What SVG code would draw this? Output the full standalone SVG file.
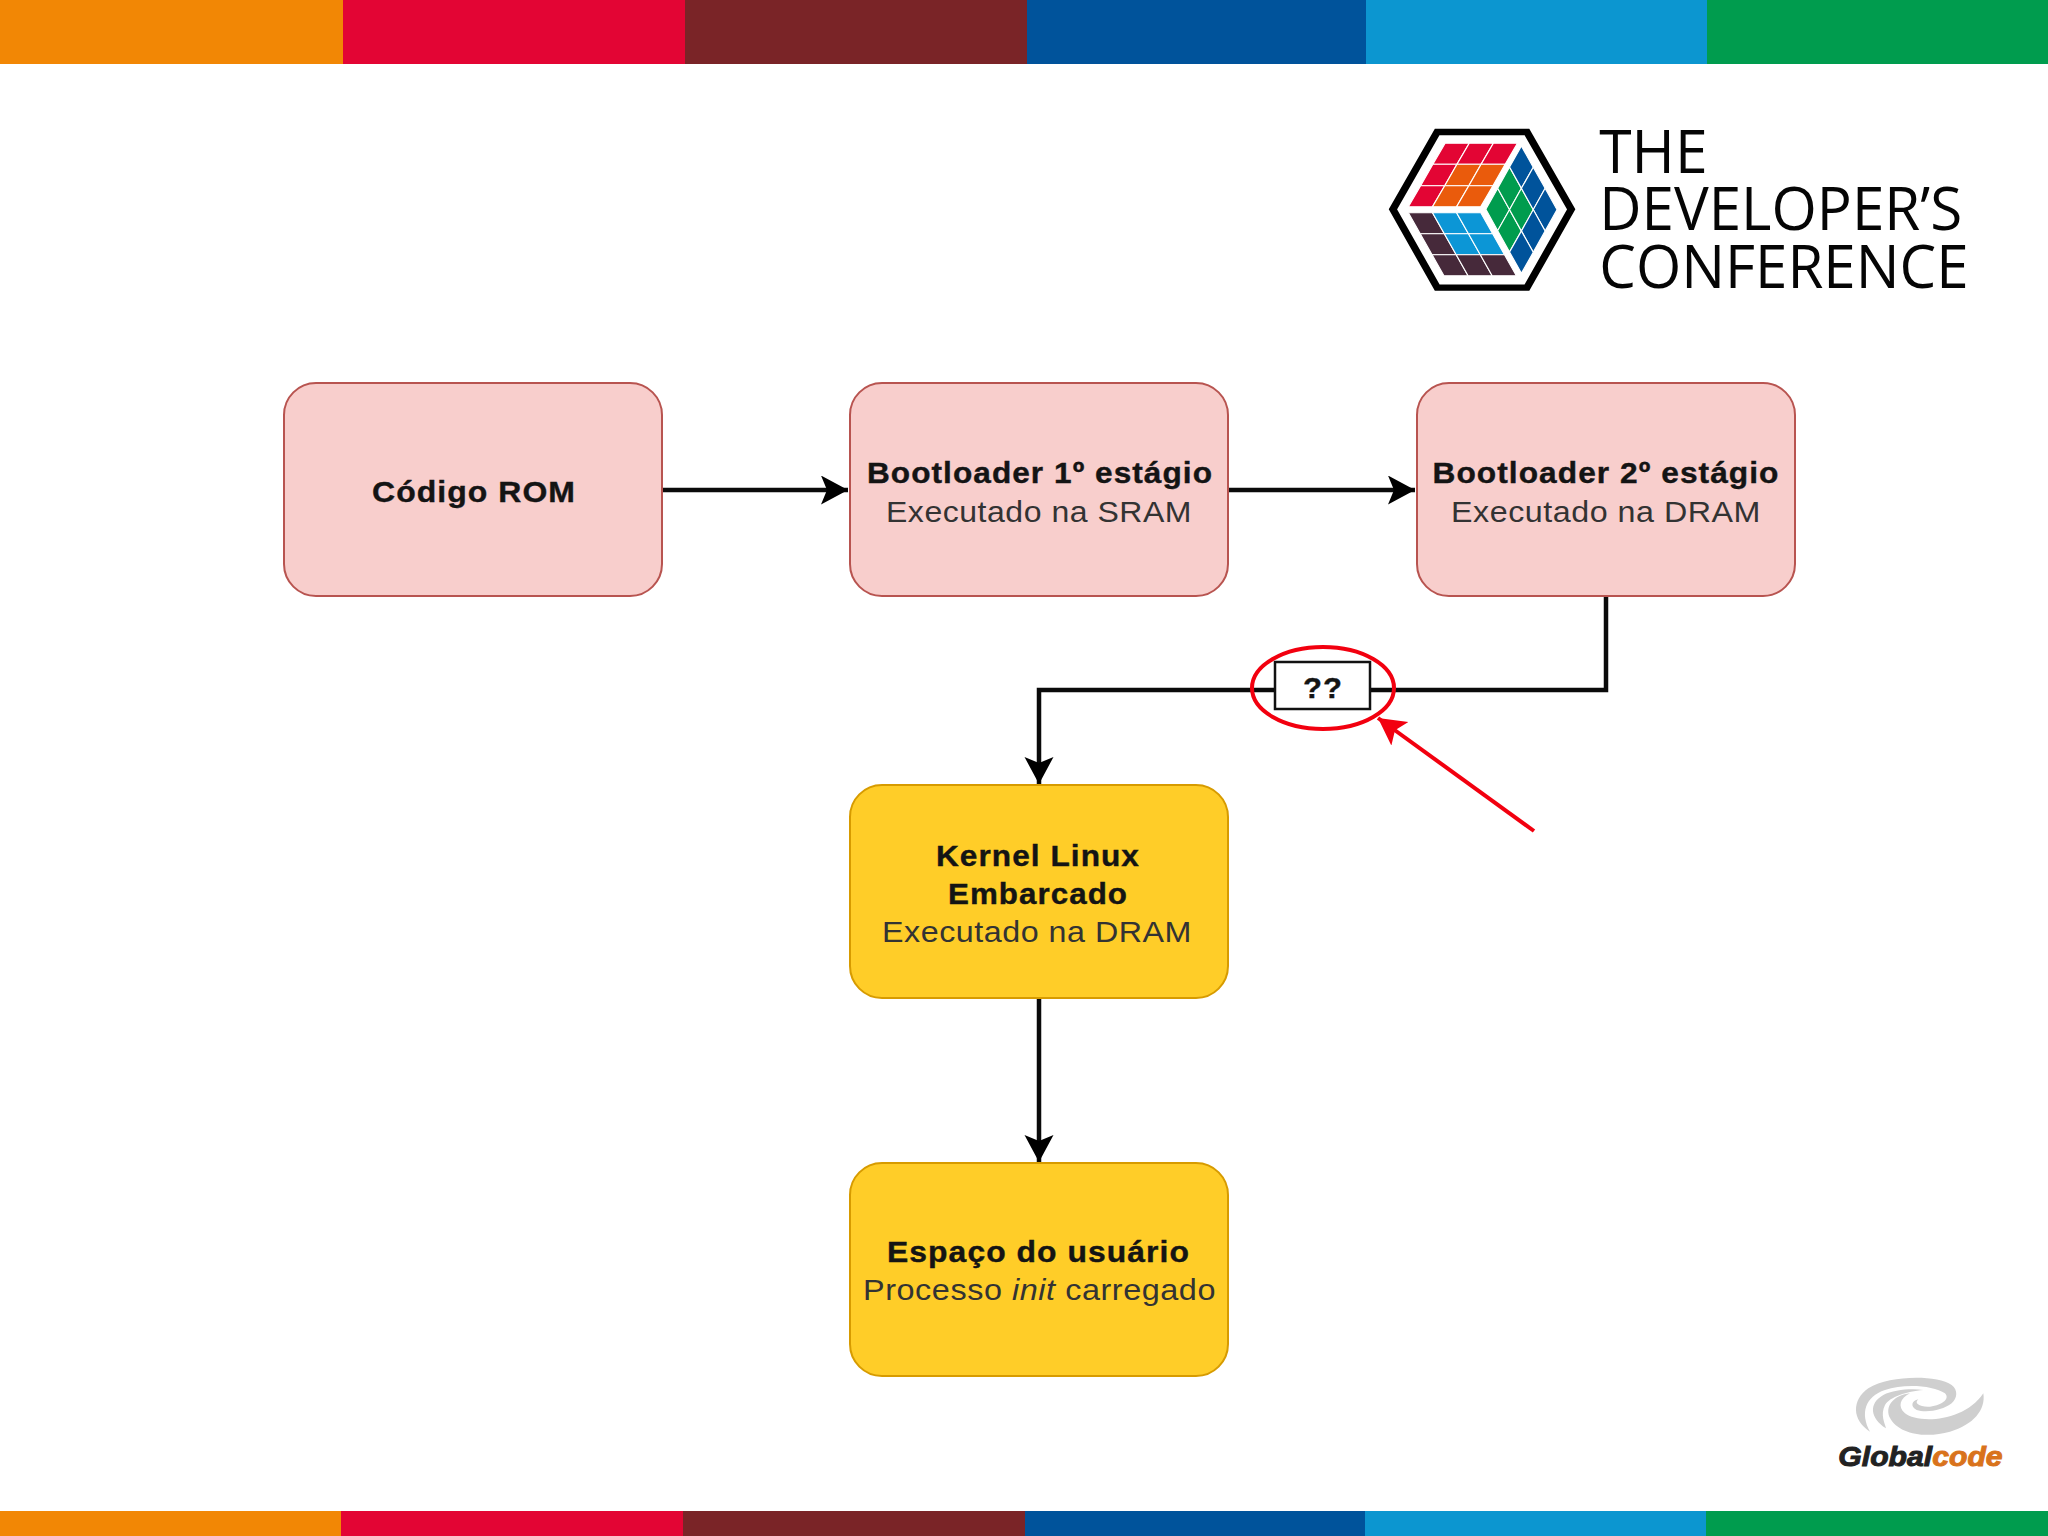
<svg xmlns="http://www.w3.org/2000/svg" width="2048" height="1536" viewBox="0 0 2048 1536">
<style>
.b{font-family:"Liberation Sans",Arial,sans-serif;font-size:30px;text-anchor:middle;fill:#141414}
.bb{font-weight:bold;stroke:#141414;stroke-width:.4;letter-spacing:1px}
.n{fill:#333;letter-spacing:.5px}
.pink{fill:#f8cecc;stroke:#b85450;stroke-width:2}
.yel{fill:#ffcd28;stroke:#d79b00;stroke-width:2}
.c{fill:none;stroke:#0a0a0a;stroke-width:4.5}
.lg{font-family:"Open Sans","Noto Sans",sans-serif;font-size:182px;fill:#050505}
.r{fill:#e30534}.o{fill:#ea5b0c}.d{fill:#46293a}.l{fill:#0c96d6}.g{fill:#009c4e}.u{fill:#00539b}
.cube polygon{stroke:#fff;stroke-width:3}
.sw{fill:#cfcfcf}
</style>
<defs>
<marker id="ah" markerUnits="userSpaceOnUse" markerWidth="30" markerHeight="30" refX="27" refY="14.5" orient="auto" viewBox="0 0 30 30"><path d="M0,0 L27,14.5 L0,29 L6,14.5 Z" fill="#000"/></marker>
<marker id="rh" markerUnits="userSpaceOnUse" markerWidth="30" markerHeight="30" refX="27" refY="14.5" orient="auto" viewBox="0 0 30 30"><path d="M0,0 L27,14.5 L0,29 L6,14.5 Z" fill="#f2000f"/></marker>
</defs>
<rect width="2048" height="1536" fill="#fff"/>
<g id="top-bar">
<rect x="0" y="0" width="343" height="64" fill="#f28705"/>
<rect x="343" y="0" width="342" height="64" fill="#e30534"/>
<rect x="685" y="0" width="342" height="64" fill="#7a2427"/>
<rect x="1027" y="0" width="339" height="64" fill="#00539b"/>
<rect x="1366" y="0" width="341" height="64" fill="#0c96d0"/>
<rect x="1707" y="0" width="341" height="64" fill="#009c4e"/>
</g>
<g id="bottom-bar">
<rect x="0" y="1511" width="341" height="25" fill="#f28705"/>
<rect x="341" y="1511" width="342" height="25" fill="#e30534"/>
<rect x="683" y="1511" width="342" height="25" fill="#7a2427"/>
<rect x="1025" y="1511" width="340" height="25" fill="#00539b"/>
<rect x="1365" y="1511" width="341" height="25" fill="#0c96d0"/>
<rect x="1706" y="1511" width="342" height="25" fill="#009c4e"/>
</g>
<g id="logo-tdc" transform="translate(1370 110) scale(.3953 .3333)">
<polygon points="170,66 397,66 509,298 397,533 170,533 58,298" fill="#fff" stroke="#000" stroke-width="19"/>
<g class="cube">
<polygon class="r" points="190,100 251,100 220,163 159,163"/>
<polygon class="r" points="251,100 312,100 281,163 220,163"/>
<polygon class="r" points="312,100 373,100 342,163 281,163"/>
<polygon class="r" points="159,163 220,163 189,227 128,227"/>
<polygon class="o" points="220,163 281,163 250,227 189,227"/>
<polygon class="o" points="281,163 342,163 311,227 250,227"/>
<polygon class="r" points="128,227 189,227 158,290 97,290"/>
<polygon class="o" points="189,227 250,227 219,290 158,290"/>
<polygon class="o" points="250,227 311,227 280,290 219,290"/>
<polygon class="d" points="97,308 158,308 188,371 127,371"/>
<polygon class="l" points="158,308 219,308 249,371 188,371"/>
<polygon class="l" points="219,308 280,308 310,371 249,371"/>
<polygon class="d" points="127,371 188,371 218,434 157,434"/>
<polygon class="l" points="188,371 249,371 279,434 218,434"/>
<polygon class="l" points="249,371 310,371 340,434 279,434"/>
<polygon class="d" points="157,434 218,434 248,497 187,497"/>
<polygon class="d" points="218,434 279,434 309,497 248,497"/>
<polygon class="d" points="279,434 340,434 370,497 309,497"/>
<polygon class="g" points="293,298 323,235 353,299 323,362"/>
<polygon class="g" points="323,235 353,171 383,235 353,299"/>
<polygon class="g" points="323,362 353,299 383,363 353,426"/>
<polygon class="g" points="353,299 383,235 413,299 383,363"/>
<polygon class="u" points="353,171 383,108 413,172 383,235"/>
<polygon class="u" points="383,235 413,172 443,235 413,299"/>
<polygon class="u" points="413,299 443,235 473,299 443,363"/>
<polygon class="u" points="383,363 413,299 443,363 413,427"/>
<polygon class="u" points="353,426 383,363 413,427 383,490"/>
</g>
<text class="lg" x="580" y="188" textLength="274" lengthAdjust="spacingAndGlyphs">THE</text>
<text class="lg" x="580" y="360" textLength="918" lengthAdjust="spacingAndGlyphs">DEVELOPER’S</text>
<text class="lg" x="580" y="535" textLength="934" lengthAdjust="spacingAndGlyphs">CONFERENCE</text>
</g>
<g id="logo-globalcode" transform="translate(1810 1360) scale(.3333)">
<path class="sw" d="M180,215 C125,180 125,120 175,85 C240,45 380,45 425,75 C445,90 442,115 425,130 C400,150 350,160 320,150 C300,140 305,122 325,118 C310,130 330,142 360,140 C400,135 420,115 405,100 C370,75 280,70 225,90 C165,110 150,160 180,215 Z"/>
<path class="sw" d="M228,205 C180,175 175,130 220,105 C250,90 300,85 340,90 C290,95 240,110 225,135 C210,165 225,190 228,205 Z"/>
<path class="sw" d="M520,100 C528,150 490,195 420,215 C350,235 265,225 238,170 C225,135 255,105 300,100 C270,115 262,140 285,160 C320,190 460,190 520,100 Z"/>
<text x="85" y="318" font-family="'Liberation Sans',Arial,sans-serif" font-size="84" font-weight="bold" font-style="italic" textLength="493" lengthAdjust="spacingAndGlyphs" stroke-width="3"><tspan fill="#222" stroke="#222">Global</tspan><tspan fill="#d9731c" stroke="#d9731c">code</tspan></text>
</g>
<g id="connectors">
<path class="c" d="M662,490 H848" marker-end="url(#ah)"/>
<path class="c" d="M1228,490 H1415" marker-end="url(#ah)"/>
<path class="c" d="M1606,596 V690 H1039 V784" marker-end="url(#ah)"/>
<path class="c" d="M1039,998 V1162" marker-end="url(#ah)"/>
</g>
<g id="node-rom">
<rect class="pink" x="284" y="383" width="378" height="213" rx="32"/>
<text class="b bb" x="474" y="502" textLength="204" lengthAdjust="spacingAndGlyphs">Código ROM</text>
</g>
<g id="node-boot1">
<rect class="pink" x="850" y="383" width="378" height="213" rx="32"/>
<text class="b bb" x="1040" y="483" textLength="346" lengthAdjust="spacingAndGlyphs">Bootloader 1º estágio</text>
<text class="b n" x="1039" y="522" textLength="306" lengthAdjust="spacingAndGlyphs">Executado na SRAM</text>
</g>
<g id="node-boot2">
<rect class="pink" x="1417" y="383" width="378" height="213" rx="32"/>
<text class="b bb" x="1606" y="483" textLength="347" lengthAdjust="spacingAndGlyphs">Bootloader 2º estágio</text>
<text class="b n" x="1606" y="522" textLength="310" lengthAdjust="spacingAndGlyphs">Executado na DRAM</text>
</g>
<g id="node-kernel">
<rect class="yel" x="850" y="785" width="378" height="213" rx="32"/>
<text class="b bb" x="1038" y="866" textLength="204" lengthAdjust="spacingAndGlyphs">Kernel Linux</text>
<text class="b bb" x="1038" y="904" textLength="180" lengthAdjust="spacingAndGlyphs">Embarcado</text>
<text class="b n" x="1037" y="942" textLength="310" lengthAdjust="spacingAndGlyphs">Executado na DRAM</text>
</g>
<g id="node-user">
<rect class="yel" x="850" y="1163" width="378" height="213" rx="32"/>
<text class="b bb" x="1038.5" y="1262" textLength="303" lengthAdjust="spacingAndGlyphs">Espaço do usuário</text>
<text class="b n" x="1039.5" y="1300" textLength="353" lengthAdjust="spacingAndGlyphs">Processo <tspan font-style="italic">init</tspan> carregado</text>
</g>
<g id="node-question">
<rect x="1275" y="662" width="95" height="47" fill="#fff" stroke="#111" stroke-width="2.5"/>
<text class="b bb" x="1323" y="698" textLength="40" lengthAdjust="spacingAndGlyphs">??</text>
</g>
<g id="highlight">
<ellipse cx="1323" cy="688" rx="71" ry="41" fill="none" stroke="#f2000f" stroke-width="4"/>
<path d="M1534,831 L1378,718" fill="none" stroke="#f2000f" stroke-width="4" marker-end="url(#rh)"/>
</g>
</svg>
